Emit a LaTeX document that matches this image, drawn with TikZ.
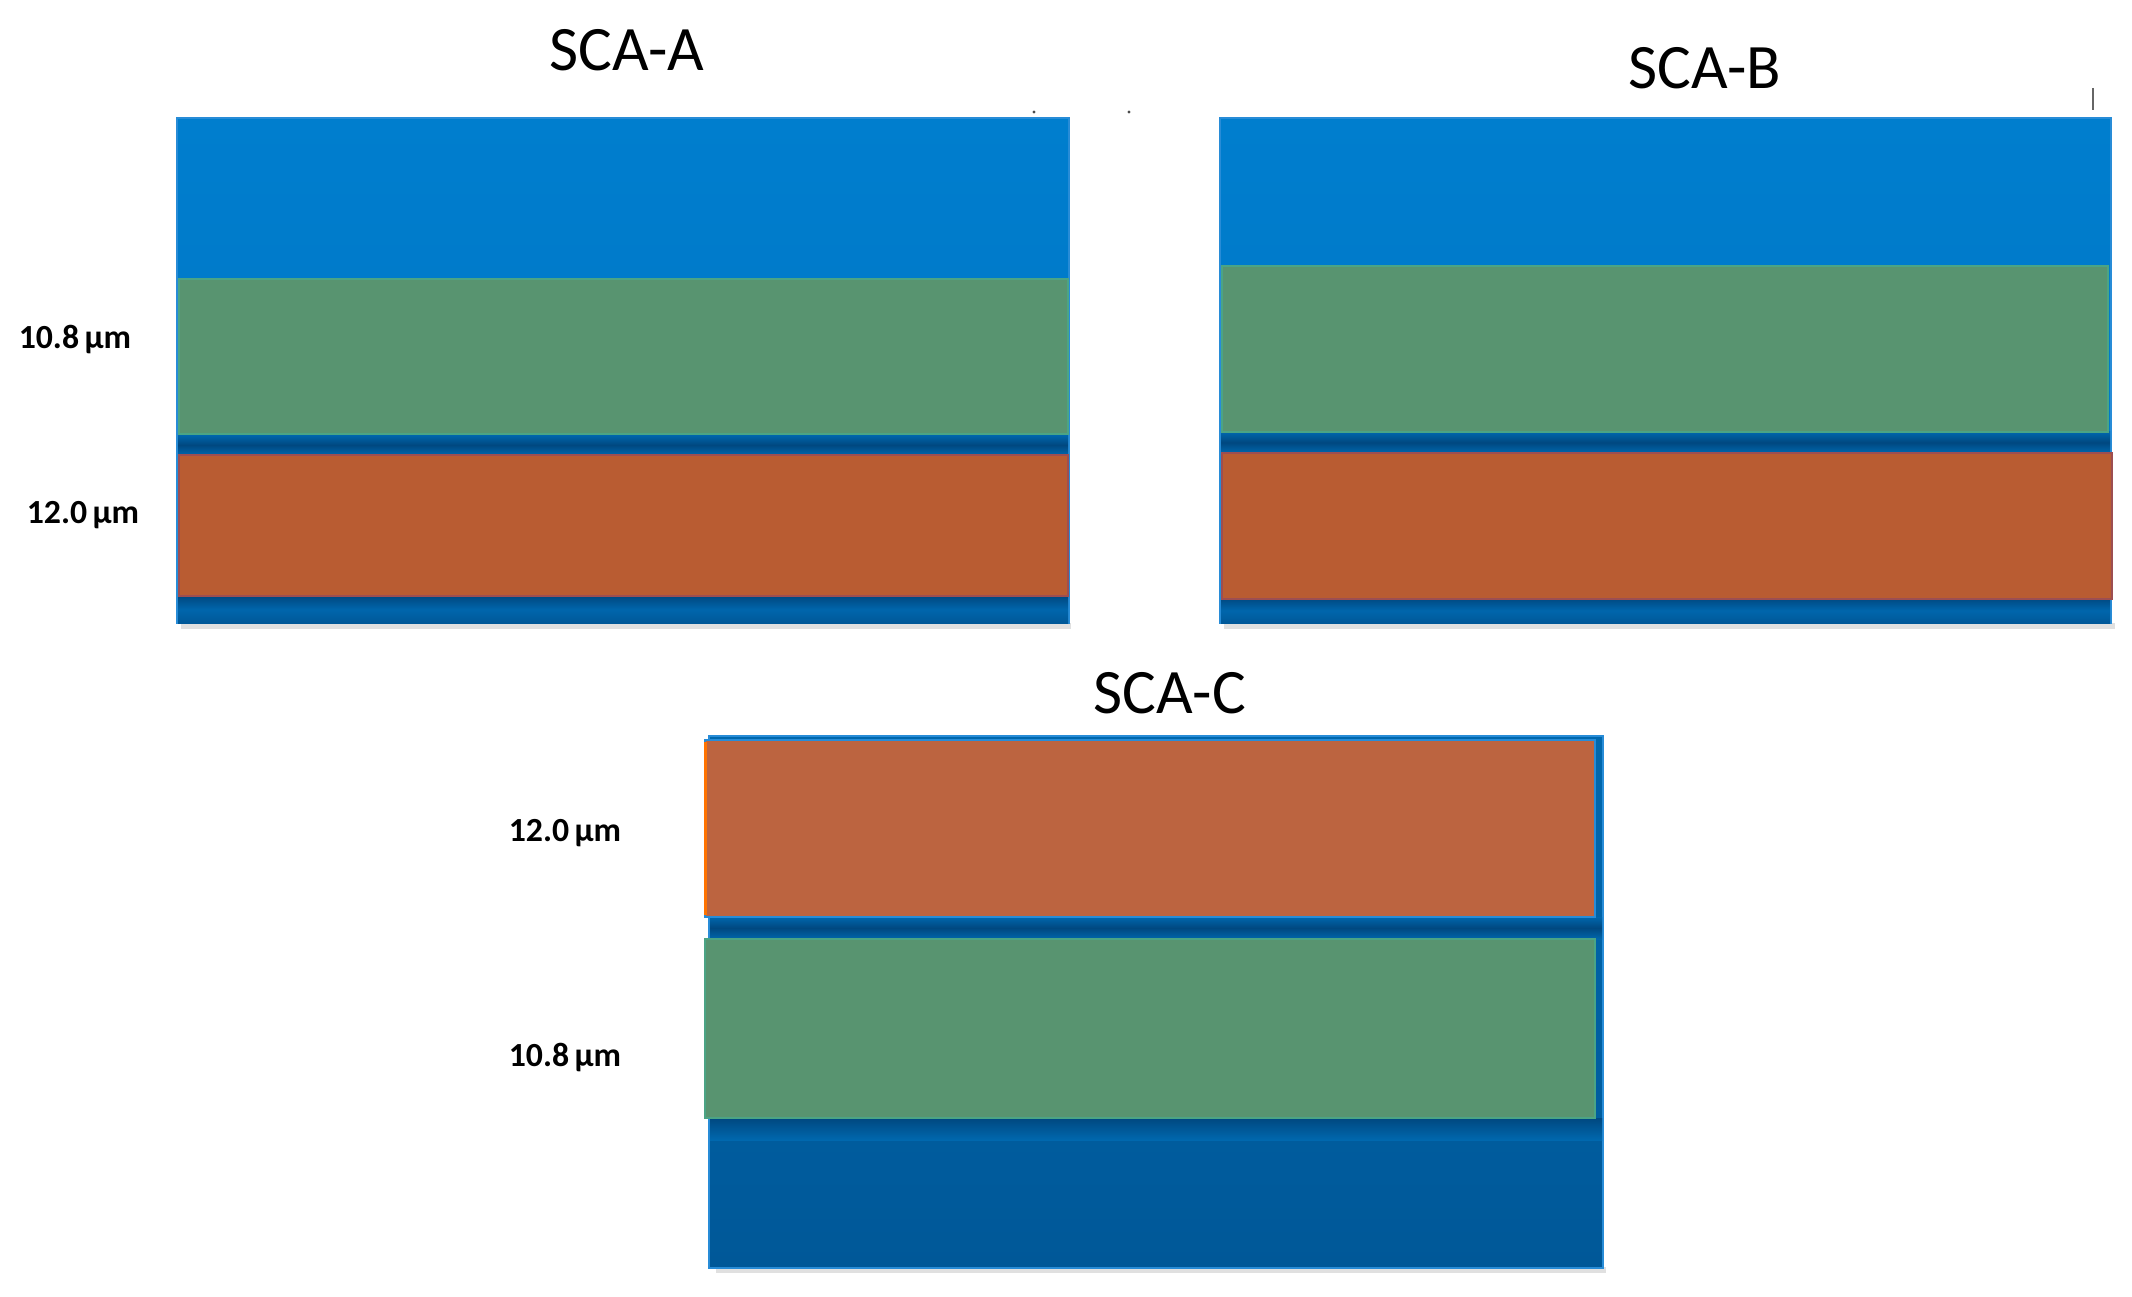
\documentclass[tikz,border=0pt]{standalone}
\usepackage{fontspec}
\setmainfont{Carlito}
\definecolor{topblue}{RGB}{0,126,206}
\definecolor{topblueB}{RGB}{0,116,194}
\definecolor{edgeblue}{RGB}{40,140,215}
\definecolor{layergreen}{RGB}{88,148,112}
\definecolor{layerorange}{RGB}{185,92,50}
\definecolor{layerorangeC}{RGB}{188,100,64}
\definecolor{stripA}{RGB}{0,102,172}
\definecolor{stripB}{RGB}{0,72,128}
\definecolor{botblueA}{RGB}{0,104,174}
\definecolor{botblueB}{RGB}{0,88,152}
\tikzset{
  title/.style={font=\fontsize{18}{20}\selectfont, inner sep=0pt},
  thick label/.style={font=\bfseries\fontsize{9.6}{11}\selectfont, inner sep=0pt},
  base/.style={top color=topblue, bottom color=topblueB, draw=edgeblue, line width=0.6pt},
  greenlayer/.style={fill=layergreen, draw=layergreen!85!cyan, line width=0.5pt},
  orangelayer/.style={fill=layerorange, draw=layerorange!85!blue, line width=0.5pt},
  strip/.style={top color=stripA, bottom color=stripA, middle color=stripB},
  shadow/.style={fill=black, opacity=0.12}
}
\begin{document}
\begin{tikzpicture}[x=0.01cm,y=-0.01cm]
\useasboundingbox (0,0) rectangle (2132,1297);
% ---------- SCA-A ----------
\node[title] (tA) at (627,50) {SCA-A};
\fill[shadow] (181,623) rectangle (1071,629);
\path[base] (177,118) rectangle (1069,623);
\path[strip] (178,435) rectangle (1068,455);
\path[top color=stripB, bottom color=botblueB, middle color=stripA] (178,596) rectangle (1068,623);
\path[greenlayer] (179,279) rectangle (1068,434);
\path[orangelayer] (179,455) rectangle (1068,596);
\node[thick label] (lA1) at (75,340) {10.8\,µm};
\node[thick label] (lA2) at (83,515) {12.0\,µm};
% ---------- SCA-B ----------
\node[title] (tB) at (1705,68) {SCA-B};
\fill[shadow] (1224,623) rectangle (2115,629);
\path[base] (1220,118) rectangle (2111,623);
\path[strip] (1221,432) rectangle (2110,453);
\path[top color=stripB, bottom color=botblueB, middle color=stripA] (1221,598) rectangle (2110,623);
\path[greenlayer] (1222,266) rectangle (2108,432);
\path[orangelayer] (1222,453) rectangle (2112,599);
% ---------- SCA-C ----------
\node[title] (tC) at (1170,693) {SCA-C};
\fill[shadow] (716,1267) rectangle (1606,1273);
\path[top color=botblueA, bottom color=botblueB, draw=edgeblue, line width=0.6pt] (709,736) rectangle (1603,1268);
\path[strip] (710,917) rectangle (1602,939);
\path[top color=stripB, bottom color=botblueA] (710,1118) rectangle (1602,1140);
\path[fill=layerorangeC, draw=edgeblue, line width=0.5pt] (705,740) rectangle (1595,917);
\draw[orange!90!red, line width=0.8pt] (705.5,742) -- (705.5,915);
\path[greenlayer] (705,939) rectangle (1595,1118);
\node[thick label] (lC1) at (565,833) {12.0\,µm};
\node[thick label] (lC2) at (565,1057) {10.8\,µm};
% ---------- small marks ----------
\fill[black!70] (1034,112) circle (1.6);
\fill[black!70] (1129,112) circle (1.6);
\draw[black!60, line width=0.6pt] (2093,88) -- (2093,110);
\end{tikzpicture}
\end{document}
